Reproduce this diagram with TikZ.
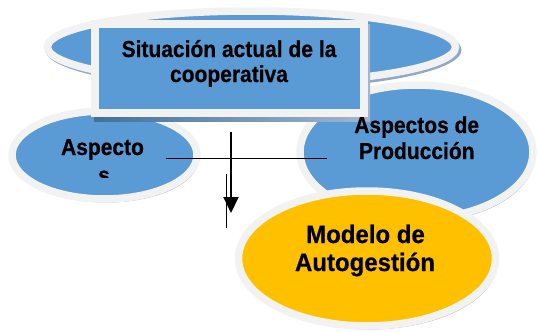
\documentclass[tikz,border=0pt]{standalone}
\usepackage{fontspec}
\setmainfont{Liberation Sans}
\newfontfamily\heavy[FakeBold=0.6]{Liberation Sans Bold}
\usetikzlibrary{arrows.meta}
\definecolor{boxblue}{HTML}{5B9BD5}
\definecolor{ringgray}{HTML}{F2F2F2}
\definecolor{shadblue}{HTML}{8FA8C8}
\definecolor{shadtan}{HTML}{B5A67E}
\definecolor{goldy}{HTML}{FFC000}
\definecolor{rectshadow}{HTML}{41719C}
\definecolor{rectshadowlight}{HTML}{A2B6D0}
\newcommand{\vstr}[2]{\scalebox{1}[#1]{#2}}
\tikzset{
  ringell/.style={line width=7.5pt, draw=ringgray},
  lbl/.style={anchor=base, inner sep=0pt, font=\heavy\fontsize{21}{25}\selectfont},
  lblbig/.style={anchor=base, inner sep=0pt, font=\heavy\fontsize{24}{28}\selectfont},
}
\begin{document}
\begin{tikzpicture}[x=1pt,y=-1pt]
\useasboundingbox (0,0) rectangle (539,332);
% top ellipse
\fill[shadblue] (253.5,50) ellipse [x radius=208, y radius=39.5];
\filldraw[ringell, fill=boxblue] (251.5,47) ellipse [x radius=204, y radius=36];
% left ellipse
\fill[shadblue] (106.5,158.5) ellipse [x radius=92.5, y radius=44];
\filldraw[ringell, fill=boxblue] (104.5,155) ellipse [x radius=92.5, y radius=44];
% right ellipse
\fill[shadblue] (418.5,155.5) ellipse [x radius=116.5, y radius=67];
\filldraw[ringell, fill=boxblue] (416.5,152) ellipse [x radius=116.5, y radius=67];
% rectangle
\shade[left color=rectshadow, right color=rectshadowlight] (94,24) rectangle (370,121.5);
\filldraw[line width=8pt, draw=ringgray, fill=boxblue] (95,23.5) rectangle (364,112.5);
% yellow ellipse
\fill[shadtan] (369,262) ellipse [x radius=128.5, y radius=67.5];
\filldraw[ringell, fill=goldy] (367,258.5) ellipse [x radius=128.5, y radius=67.5];
% texts
\node[lbl] (t1) at (229,57) {\vstr{1.1}{Situación actual de la}};
\node[lbl] (t2) at (229,82) {\vstr{1.1}{cooperativa}};
\node[lbl] (a1) at (102.5,155) {\vstr{1.1}{Aspecto}};
\begin{scope}
\clip (80,160) rectangle (130,177.5);
\node[lbl] (a2) at (104,183) {\vstr{1.1}{s}};
\end{scope}
\node[lbl] (p1) at (416.7,133) {\vstr{1.1}{Aspectos de}};
\node[lbl] (p2) at (416.8,159) {\vstr{1.1}{Producción}};
\node[lblbig] (m1) at (365.5,243) {\vstr{1.05}{Modelo de}};
\node[lblbig] (m2) at (365,271) {\vstr{1.05}{Autogestión}};
% connectors
\coordinate (hA) at (166,158.3);
\coordinate (hB) at (327,158.3);
\coordinate (vA) at (231,132);
\coordinate (vB) at (231,213);
\coordinate (wA) at (226,174);
\coordinate (wB) at (226,228);
\draw[line width=1pt] (hA) -- (hB);
\draw[line width=2pt, -{Triangle[length=16pt,width=15pt]}] (vA) -- (vB);
\draw[line width=1pt] (wA) -- (wB);
\end{tikzpicture}
\end{document}
